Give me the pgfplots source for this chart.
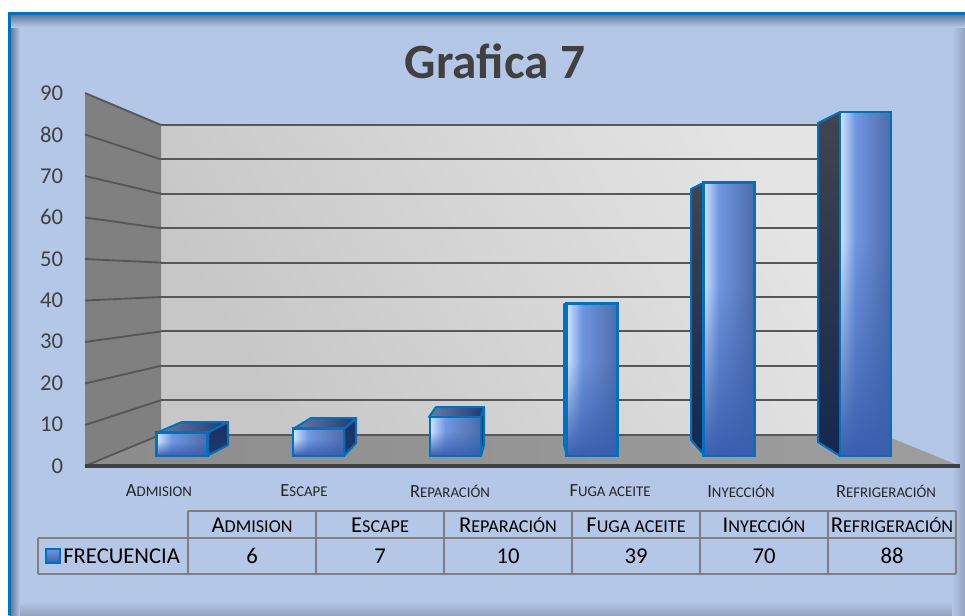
\documentclass[border=0pt]{standalone}
\usepackage{fontspec}
\setmainfont{Carlito}
\usepackage{pgfplots}
\pgfplotsset{compat=1.18}
\definecolor{panel}{HTML}{B4C7E7}
\definecolor{panelA}{HTML}{5F7394}
\definecolor{panelB}{HTML}{93A4C0}
\definecolor{edgeblue}{HTML}{0070C0}
\definecolor{textgray}{HTML}{404040}
\definecolor{gridgray}{HTML}{575757}
\definecolor{tablegray}{HTML}{7F7F7F}
\definecolor{barM}{HTML}{7096E0}
\definecolor{barB}{HTML}{3A5FAE}
\definecolor{sideT}{HTML}{40454F}
\definecolor{sideB}{HTML}{14274F}
\definecolor{shortT}{HTML}{1F3060}
\definecolor{shortB}{HTML}{1B3A70}
\definecolor{topL}{HTML}{6A7CA5}
\definecolor{topR}{HTML}{1F3A72}
% bar front: light stripe at upper left, darker to the right, even blue at the foot
% (a path is fitted to the middle 50bp of the 100bp shading)
\pgfdeclarefunctionalshading{barface}{\pgfpoint{-50bp}{-50bp}}{\pgfpoint{50bp}{50bp}}{}{
 25 add 50 div exch 25 add 50 div exch
 1.6 mul dup 1 gt {pop 1}{} ifelse dup 0 lt {pop 0}{} ifelse
 2 copy exch dup 0.3 lt {0.3 div -0.38 mul 0.82 add}{0.3 sub 0.7 div -0.14 mul 0.44 add} ifelse mul 1 index 1 exch sub 0.23 mul add 3 1 roll
 2 copy exch dup 0.3 lt {0.3 div -0.31 mul 0.90 add}{0.3 sub 0.7 div -0.17 mul 0.59 add} ifelse mul 1 index 1 exch sub 0.37 mul add 3 1 roll
 2 copy exch dup 0.3 lt {0.3 div -0.12 mul 1.0 add}{0.3 sub 0.7 div -0.22 mul 0.88 add} ifelse mul 1 index 1 exch sub 0.68 mul add 3 1 roll
 pop pop
}
\newcommand\capsm[2]{#1{\smalldown #2}}
\newcommand\tfont{\def\smalldown{\fontsize{13.6}{13.6}\selectfont}\fontsize{17}{17}\selectfont}
\newcommand\afont{\def\smalldown{\fontsize{11.1}{11.1}\selectfont}\fontsize{13.9}{13.9}\selectfont}
\newcommand\tcell[3]{\node[font=\tfont,text=black,inner sep=0pt,anchor=center] at (axis cs:#1,#2) {#3};}
\begin{document}
\begin{tikzpicture}
\path[use as bounding box] (0,0) rectangle (723.75pt,461.25pt);
% ---- canvas in reference pixels
\begin{axis}[at={(0,0)},anchor=south west,scale only axis,width=723.75pt,height=461.25pt,
  xmin=0,xmax=965,ymin=0,ymax=615,y dir=reverse,axis lines=none,ticks=none,clip=true,no markers]
\addplot[draw=none,fill=panel] coordinates {(8,12)(965,12)(965,615)(8,615)} -- cycle;
\addplot[draw=none,top color=panel,bottom color=panelB] coordinates {(8,602)(965,602)(965,615)(8,615)} -- cycle;
\addplot[draw=none,left color=panel,right color=panelB] coordinates {(952,12)(965,12)(965,615)(952,615)} -- cycle;
\addplot[draw=none,left color=panelA,right color=panel] coordinates {(10,12)(20,12)(20,615)(10,615)} -- cycle;
\addplot[draw=none,top color=panelA,bottom color=panel] coordinates {(10,14)(965,14)(965,27)(10,27)} -- cycle;
\addplot[draw=none,fill=edgeblue] coordinates {(8,12)(965,12)(965,15)(8,15)} -- cycle;
\addplot[draw=none,fill=edgeblue] coordinates {(8,12)(11,12)(11,615)(8,615)} -- cycle;
% walls and floor
\addplot[draw=none,left color=black!22,right color=black!10,shading angle=120] coordinates {(161,125)(884,125)(884,435)(161,435)} -- cycle;
\addplot[draw=none,fill=black!50] coordinates {(85,93)(161,125)(161,435)(85,466)} -- cycle;
\addplot[draw=none,left color=black!45,right color=black!38] coordinates {(85,466)(161,435)(884,435)(960,466)} -- cycle;
% back-wall gridlines
\pgfplotsinvokeforeach{125,159.4,193.8,228.2,262.6,297,331.4,365.8,400.2,434.6}{
  \addplot[gridgray,line width=1.4pt] coordinates {(161,#1)(884,#1)};
}
% side-wall gridlines
\addplot[gridgray,line width=1.4pt] coordinates {(85,93)(161,125)};
\addplot[gridgray,line width=1.4pt] coordinates {(85,134.5)(161,159.4)};
\addplot[gridgray,line width=1.4pt] coordinates {(85,176)(161,193.8)};
\addplot[gridgray,line width=1.4pt] coordinates {(85,217.5)(161,228.2)};
\addplot[gridgray,line width=1.4pt] coordinates {(85,259)(161,262.6)};
\addplot[gridgray,line width=1.4pt] coordinates {(85,300.5)(161,297)};
\addplot[gridgray,line width=1.4pt] coordinates {(85,342)(161,331.4)};
\addplot[gridgray,line width=1.4pt] coordinates {(85,383.5)(161,365.8)};
\addplot[gridgray,line width=1.4pt] coordinates {(85,425)(161,400.2)};
\addplot[gridgray,line width=1.4pt] coordinates {(85,466)(161,434.6)};
% bar side faces
\addplot[draw=edgeblue,line width=1.5pt,line join=round,top color=shortT,bottom color=shortB] coordinates {(207,433)(228,422)(228,445)(207,456)} -- cycle;
\addplot[draw=edgeblue,line width=1.5pt,line join=round,top color=shortT,bottom color=shortB] coordinates {(344,429)(356,418)(356,443)(344,456)} -- cycle;
\addplot[draw=edgeblue,line width=1.5pt,line join=round,top color=shortT,bottom color=shortB] coordinates {(481,417)(484,407)(484,445)(481,456)} -- cycle;
\addplot[draw=edgeblue,line width=1.5pt,line join=round,top color=sideT,bottom color=sideB] coordinates {(567,304)(564,304)(564,445)(567,456)} -- cycle;
\addplot[draw=edgeblue,line width=1.5pt,line join=round,top color=sideT,bottom color=sideB] coordinates {(705,182)(691,189)(691,440)(705,456)} -- cycle;
\addplot[draw=edgeblue,line width=1.5pt,line join=round,top color=sideT,bottom color=sideB] coordinates {(840,112)(818,123)(818,442)(840,456)} -- cycle;
% bar top faces
\addplot[draw=edgeblue,line width=1.5pt,line join=round,left color=topL,right color=topR] coordinates {(156,433)(182,422)(228,422)(207,433)} -- cycle;
\addplot[draw=edgeblue,line width=1.5pt,line join=round,left color=topL,right color=topR] coordinates {(293,429)(311,418)(356,418)(344,429)} -- cycle;
\addplot[draw=edgeblue,line width=1.5pt,line join=round,left color=topL,right color=topR] coordinates {(429,417)(436,407)(484,407)(481,417)} -- cycle;
% table
\addplot[tablegray,line width=1.4pt] coordinates {(188,511)(956,511)};
\addplot[tablegray,line width=1.4pt] coordinates {(38,538)(956,538)};
\addplot[tablegray,line width=1.4pt] coordinates {(38,574)(956,574)};
\addplot[tablegray,line width=1.4pt] coordinates {(38,538)(38,574)};
\addplot[tablegray,line width=1.4pt] coordinates {(188,511)(188,574)};
\addplot[tablegray,line width=1.4pt] coordinates {(316,511)(316,574)};
\addplot[tablegray,line width=1.4pt] coordinates {(444,511)(444,574)};
\addplot[tablegray,line width=1.4pt] coordinates {(572,511)(572,574)};
\addplot[tablegray,line width=1.4pt] coordinates {(700,511)(700,574)};
\addplot[tablegray,line width=1.4pt] coordinates {(828,511)(828,574)};
\addplot[tablegray,line width=1.4pt] coordinates {(956,511)(956,574)};
\addplot[draw=edgeblue,line width=1pt,top color=barM,bottom color=barB] coordinates {(46,549)(60,549)(60,563)(46,563)} -- cycle;
\node[anchor=west,font=\tfont,text=black,inner sep=0pt] at (axis cs:63,556) {FRECUENCIA};
\tcell{252}{525}{\capsm{A}{DMISION}}
\tcell{380}{525}{\capsm{E}{SCAPE}}
\tcell{508}{525}{\capsm{R}{EPARACIÓN}}
\tcell{636}{525}{\capsm{F}{UGA ACEITE}}
\tcell{764}{525}{\capsm{I}{NYECCIÓN}}
\tcell{892}{525}{\capsm{R}{EFRIGERACIÓN}}
\tcell{252}{556}{6}
\tcell{380}{556}{7}
\tcell{508}{556}{10}
\tcell{636}{556}{39}
\tcell{764}{556}{70}
\tcell{892}{556}{88}
\node[font=\bfseries\fontsize{37}{37}\selectfont,text=textgray,anchor=center,inner sep=0pt] at (axis cs:495,61) {Grafica 7};
\end{axis}
% ---- bar fronts, in chart values (one plot per bar, so each bar has its own shading)
\begin{axis}[at={(85.24pt,119.25pt)},anchor=south west,scale only axis,width=615.15pt,height=263.925pt,
  xmin=-0.5,xmax=5.5,ymin=0,ymax=90,axis lines=none,ticks=none,clip=false,
  ybar,bar width=38.25pt,bar shift=0pt]
\addplot[draw=edgeblue,line width=1.8pt,shading=barface] coordinates {(0,6)};
\addplot[draw=edgeblue,line width=1.8pt,shading=barface] coordinates {(1,7)};
\addplot[draw=edgeblue,line width=1.8pt,shading=barface] coordinates {(2,10)};
\addplot[draw=edgeblue,line width=1.8pt,shading=barface] coordinates {(3,39)};
\addplot[draw=edgeblue,line width=1.8pt,shading=barface] coordinates {(4,70)};
\addplot[draw=edgeblue,line width=1.8pt,shading=barface] coordinates {(5,88)};
\end{axis}
% ---- value axis and category labels
\begin{axis}[at={(63.75pt,111.75pt)},anchor=south west,scale only axis,width=656.25pt,height=279.75pt,
  xmin=85,xmax=960,ymin=0,ymax=90,
  axis x line=bottom,axis y line=left,axis line style={-},
  x axis line style={draw=textgray,line width=2.4pt},y axis line style={draw=none},
  ytick={0,10,...,90},xtick={159,304,450,610,741,886},
  xticklabels={\capsm{A}{DMISION},\capsm{E}{SCAPE},\capsm{R}{EPARACIÓN},\capsm{F}{UGA ACEITE},\capsm{I}{NYECCIÓN},\capsm{R}{EFRIGERACIÓN}},
  major tick length=0pt,
  /pgf/number format/assume math mode=true,
  yticklabel style={font=\fontsize{17}{17}\selectfont,text=textgray},
  xticklabel style={font=\afont,text=black!85},
  yticklabel shift=12.8pt,xticklabel shift=10.5pt]
\end{axis}
\end{tikzpicture}
\end{document}
